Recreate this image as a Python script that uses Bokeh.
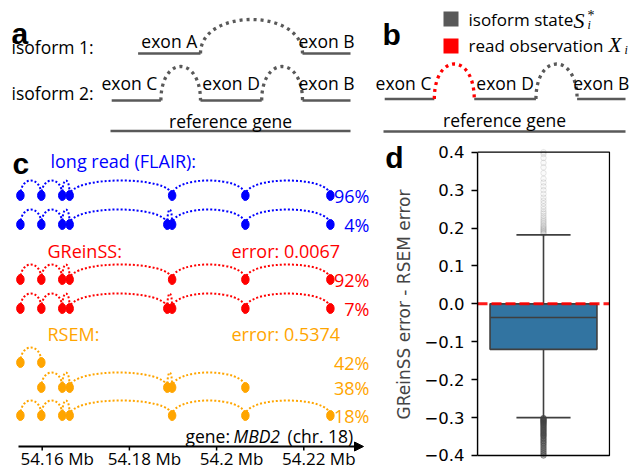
import numpy as np
from bokeh.plotting import figure
from bokeh.layouts import column, row
from bokeh.models import Range1d, Arrow, NormalHead, LinearAxis, FixedTicker
from bokeh.core.properties import value
from bokeh.embed import file_html
from bokeh.resources import INLINE

# ===================== DATA =====================
# Panels a & b: schematic exons in gene units (reference gene spans 0..100)
exon_label = ["exon A", "exon B", "exon C", "exon D"]
exon_start = [11.5, 80.0, 0.5, 37.5]
exon_end = [37.5, 100.0, 21.0, 63.0]
isoform1 = [0, 1]          # exon A -> exon B
isoform2 = [2, 3, 1]       # exon C -> exon D -> exon B
reference_gene = [0.0, 100.0]
read_observed_intron = 0   # intron C-D of isoform 2 observed by the read (panel b)

# Panel c: MBD2 exon positions (Mb, chr. 18)
exon_mb = [54.1550, 54.1598, 54.1646, 54.1663, 54.1887, 54.1898, 54.2066, 54.2261]
flair_isoforms = [[0, 1, 2, 3, 5, 6, 7], [0, 1, 2, 3, 4, 5, 6, 7]]
flair_pct = ["96%", "4%"]
greinss_isoforms = [[0, 1, 2, 3, 5, 6, 7], [0, 1, 2, 3, 4, 5, 6, 7]]
greinss_pct = ["92%", "7%"]
rsem_isoforms = [[0, 1], [1, 2, 3, 4, 5, 6], [0, 1, 2, 3, 5, 6, 7]]
rsem_pct = ["42%", "38%", "18%"]
greinss_error = "error: 0.0067"
rsem_error = "error: 0.5374"
mb_ticks = [54.16, 54.18, 54.20, 54.22]
mb_tick_labels = ["54.16 Mb", "54.18 Mb", "54.2 Mb", "54.22 Mb"]

# Panel d: GReinSS error - RSEM error (box plot summary)
box_upper_q = 0.0
box_median = -0.036
box_lower_q = -0.12
whisker_high = 0.182
whisker_low = -0.30
fliers_high = [0.185, 0.187, 0.19, 0.192, 0.195, 0.197, 0.2, 0.203, 0.206, 0.21,
               0.214, 0.218, 0.222, 0.227, 0.232, 0.238, 0.243, 0.25, 0.257, 0.265,
               0.272, 0.28, 0.29, 0.3, 0.31, 0.32, 0.33, 0.345, 0.36, 0.372, 0.385, 0.395, 0.4]
fliers_low = [-0.301, -0.303, -0.305, -0.307, -0.309, -0.311, -0.313, -0.315, -0.318,
              -0.32, -0.323, -0.326, -0.329, -0.332, -0.335, -0.338, -0.341, -0.344,
              -0.347, -0.35, -0.354, -0.358, -0.362, -0.366, -0.37, -0.375, -0.38,
              -0.385, -0.39, -0.395, -0.4]
d_ticks = [-0.4, -0.3, -0.2, -0.1, 0.0, 0.1, 0.2, 0.3, 0.4]
d_tick_labels = ["\u22120.4", "\u22120.3", "\u22120.2", "\u22120.1", "0.0", "0.1", "0.2", "0.3", "0.4"]
d_limits = [-0.4, 0.4]

# ===================== STYLE / LAYOUT =====================
GRAY = "#595959"
BLUE = "#0000ff"
RED = "#ff0000"
ORANGE = "#ffa500"
SANS = "Open Sans"
BOLD = "Liberation Sans"
SERIF = "Liberation Serif"


def blank(width, height, xr, yr):
    p = figure(width=width, height=height, x_range=xr, y_range=yr,
               toolbar_location=None, output_backend="svg",
               x_axis_location=None, y_axis_location=None, min_border=0)
    p.outline_line_color = None
    p.xgrid.visible = False
    p.ygrid.visible = False
    return p


def txt(p, x, y, s, size="17.5px", color="black", align="left", baseline="middle",
        font=SANS, style="normal", x_offset=0):
    p.text(x=[x], y=[y], text=[s], text_font=value(font), text_font_size=value(size),
           text_color=color, text_align=align, text_baseline=baseline,
           text_font_style=style, x_offset=x_offset)


def isoform_drawing(p, exons, y, arc_h, label_y, label_dx, intron_colors):
    p.segment(x0=[exon_start[e] for e in exons], y0=[y] * len(exons),
              x1=[exon_end[e] for e in exons], y1=[y] * len(exons),
              line_color=GRAY, line_width=2.7)
    a = [exon_end[e] for e in exons[:-1]]
    b = [exon_start[e] for e in exons[1:]]
    for i in range(len(a)):
        p.bezier(x0=[a[i]], y0=[y], x1=[b[i]], y1=[y], cx0=[a[i]], cy0=[y - arc_h * 4 / 3],
                 cx1=[b[i]], cy1=[y - arc_h * 4 / 3], line_color=intron_colors[i],
                 line_width=3.3, line_dash="3 4")
    for e in exons:
        txt(p, (exon_start[e] + exon_end[e]) / 2, label_y, exon_label[e], align="center",
            x_offset=label_dx.get(e, 0))


# ---------- panel a ----------
A_PX = 2.4
A_X0 = -110 / A_PX
pa = blank(360, 140, Range1d(A_X0, A_X0 + 360 / A_PX), Range1d(140, 0))
ax = lambda px: A_X0 + px / A_PX
txt(pa, ax(11), 33, "a", size="30px", font=BOLD, style="bold", baseline="alphabetic")
txt(pa, ax(11), 46, "isoform 1:")
txt(pa, ax(11), 92, "isoform 2:")
isoform_drawing(pa, isoform1, 53, 34, 40, {}, [GRAY])
isoform_drawing(pa, isoform2, 100, 34, 82, {2: -7}, [GRAY, GRAY])
pa.segment(x0=[reference_gene[0]], y0=[130.5], x1=[reference_gene[1]], y1=[130.5],
           line_color=GRAY, line_width=2.7)
txt(pa, sum(reference_gene) / 2, 120, "reference gene", align="center")

# ---------- panel b ----------
B_PX = 2.42
B_X0 = -23 / B_PX
pb = blank(272, 140, Range1d(B_X0, B_X0 + 272 / B_PX), Range1d(140, 0))
bx = lambda px: B_X0 + px / B_PX
txt(pb, bx(22), 34, "b", size="30px", font=BOLD, style="bold", baseline="alphabetic")
pb.scatter(x=[bx(90.5), bx(90.5)], y=[18.5, 45.5], marker="square", size=15,
           fill_color=[GRAY, RED], line_color=None)
txt(pb, bx(108), 19, "isoform state", size="17px")
txt(pb, bx(213), 19.5, "S", size="22px", font=SERIF, style="italic")
txt(pb, bx(227), 24.5, "i", size="12px", font=SERIF, style="italic")
txt(pb, bx(227), 15, "*", size="14px", font=SERIF)
txt(pb, bx(108), 45, "read observation", size="17px")
txt(pb, bx(248), 44.5, "X", size="21px", font=SERIF, style="italic")
txt(pb, bx(264), 49.5, "i", size="12px", font=SERIF, style="italic")
intron_cols = [RED if i == read_observed_intron else GRAY for i in range(len(isoform2) - 1)]
isoform_drawing(pb, isoform2, 98.5, 35, 82, {2: -6}, intron_cols)
pb.segment(x0=[reference_gene[0]], y0=[131], x1=[reference_gene[1]], y1=[131],
           line_color=GRAY, line_width=2.7)
txt(pb, sum(reference_gene) / 2, 119, "reference gene", align="center")

# ---------- panel c ----------
C_PX_PER_MB = 4360.0
C_X0 = mb_ticks[0] - 41.7 / C_PX_PER_MB
pc = blank(370, 328, Range1d(C_X0, C_X0 + 370 / C_PX_PER_MB), Range1d(328, 0))
cx = lambda px: C_X0 + px / C_PX_PER_MB
txt(pc, cx(12), 23, "c", size="30px", font=BOLD, style="bold", baseline="alphabetic")

groups = [
    ("long read (FLAIR):", None, BLUE, flair_isoforms, flair_pct, 20, [55, 84]),
    ("GReinSS:", greinss_error, RED, greinss_isoforms, greinss_pct, 110, [139, 168]),
    ("RSEM:", rsem_error, ORANGE, rsem_isoforms, rsem_pct, 193, [222, 247, 275]),
]
ARC_H = 15
for title, err, col, isos, pcts, ty, rows in groups:
    txt(pc, cx(50 if err is None else 47), ty, title, color=col, size="18px")
    if err is not None:
        txt(pc, cx(231), ty, err, color=col, size="18px")
    for iso, pct, y in zip(isos, pcts, rows):
        a = [exon_mb[i] for i in iso[:-1]]
        b = [exon_mb[i] for i in iso[1:]]
        n = len(a)
        pc.bezier(x0=a, y0=[y] * n, x1=b, y1=[y] * n, cx0=a, cy0=[y - ARC_H * 4 / 3] * n,
                  cx1=b, cy1=[y - ARC_H * 4 / 3] * n, line_color=col, line_width=2,
                  line_dash="2 2")
        pc.ellipse(x=[exon_mb[i] for i in iso], y=[y] * len(iso), width=7.5, height=10,
                   width_units="screen", height_units="screen",
                   fill_color=col, line_color=col)
        txt(pc, cx(369), y, pct, color=col, align="right", size="18px")

AXIS_Y = 306
pc.add_layout(Arrow(end=NormalHead(size=9, fill_color="black", line_color="black"),
                    x_start=cx(18), y_start=AXIS_Y, x_end=cx(363), y_end=AXIS_Y,
                    line_width=2, line_color="black"))
pc.segment(x0=mb_ticks, y0=[AXIS_Y] * len(mb_ticks), x1=mb_ticks,
           y1=[AXIS_Y + 4] * len(mb_ticks), line_color="black", line_width=1.5)
pc.text(x=mb_ticks, y=[317.5] * len(mb_ticks), text=mb_tick_labels, x_offset=15,
        text_font=value(SANS), text_font_size=value("17px"), text_color="black",
        text_align="center", text_baseline="middle")
txt(pc, cx(185), 295, "gene:")
txt(pc, cx(233), 295, "MBD2", style="italic")
txt(pc, cx(287), 295, "(chr. 18)")

# ---------- panel d ----------
D_PX = 379.1   # pixels per unit on the y axis
pd_ = figure(width=262, height=328,
             x_range=Range1d(-0.5, 0.5 + 1 / 132),
             y_range=Range1d(d_limits[0] - 13 / D_PX, d_limits[1] + 11.7 / D_PX),
             toolbar_location=None, output_backend="svg", x_axis_location=None,
             min_border_left=107, min_border_right=22, min_border_top=0, min_border_bottom=0)
pd_.xgrid.visible = False
pd_.ygrid.visible = False
pd_.outline_line_color = None
yax = pd_.yaxis[0]
yax.bounds = tuple(d_limits)
yax.ticker = d_ticks
yax.major_label_overrides = {t: l for t, l in zip(d_ticks, d_tick_labels)}
yax.axis_label = "GReinSS error - RSEM error"
yax.axis_label_text_font = "DejaVu Sans"
yax.axis_label_text_font_style = "normal"
yax.axis_label_text_font_size = "17px"
yax.axis_label_standoff = 7
yax.major_label_text_font = "DejaVu Sans"
yax.major_label_text_font_size = "16.5px"
yax.major_label_text_color = "black"
yax.major_label_standoff = 7
yax.major_tick_in = 0
yax.major_tick_out = 6
yax.major_tick_line_width = 1.3
yax.minor_tick_line_color = None
yax.axis_line_width = 1.3

# panel letter "d" carried by an outer, tick-less axis label (stays outside the frame)
dax = LinearAxis(bounds=(0.30, 0.348), ticker=FixedTicker(ticks=[], minor_ticks=[]),
                 axis_label="\nd", axis_label_orientation="horizontal",
                 axis_label_align="end", axis_label_text_line_height=1.0,
                 axis_label_text_font=BOLD, axis_label_text_font_style="bold",
                 axis_label_text_font_size="30px", axis_label_text_color="black",
                 axis_label_standoff=-12, axis_line_color=None,
                 major_tick_in=0, major_tick_out=0, minor_tick_in=0, minor_tick_out=0,
                 major_label_standoff=0, major_tick_line_color=None,
                 minor_tick_line_color=None)
pd_.add_layout(dax, "left")

BOX_W = 0.81
CAP_W = 0.41
EDGE = "#3f3f3f"
pd_.scatter(x=[0] * len(fliers_high), y=fliers_high, size=5.5, fill_color="gray",
            fill_alpha=0.04, line_color="gray", line_alpha=0.18)
pd_.scatter(x=[0] * len(fliers_low), y=fliers_low, size=5.5, fill_color="#3f3f3f",
            fill_alpha=0.3, line_color="#3f3f3f", line_alpha=0.5)
pd_.segment(x0=[0, 0], y0=[box_upper_q, box_lower_q], x1=[0, 0], y1=[whisker_high, whisker_low],
            line_color=EDGE, line_width=1.6)
pd_.segment(x0=[-CAP_W / 2] * 2, y0=[whisker_high, whisker_low], x1=[CAP_W / 2] * 2,
            y1=[whisker_high, whisker_low], line_color=EDGE, line_width=1.6)
pd_.quad(left=[-BOX_W / 2], right=[BOX_W / 2], top=[box_upper_q], bottom=[box_lower_q],
         fill_color="#3274a1", line_color=EDGE, line_width=1.6)
pd_.segment(x0=[-BOX_W / 2], y0=[box_median], x1=[BOX_W / 2], y1=[box_median],
            line_color=EDGE, line_width=1.6)
pd_.line(x=[-0.5, 0.5], y=[0, 0], line_color=RED, line_width=3, line_dash="10 4", line_alpha=0.9)
pd_.quad(left=[-0.5], right=[0.5], top=[d_limits[1]], bottom=[d_limits[0]],
         fill_color=None, line_color="black", line_width=1.3)

layout = column(row(pa, pb), row(pc, pd_))
open("out.html", "w").write(file_html(layout, INLINE))
